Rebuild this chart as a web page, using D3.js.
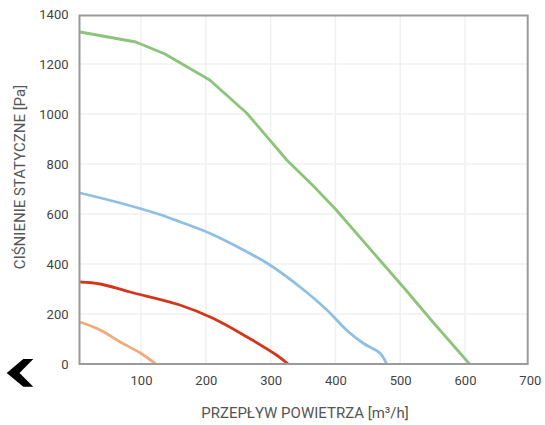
<!DOCTYPE html>
<html><head><meta charset="utf-8">
<script src="https://cdn.jsdelivr.net/npm/d3@7"></script>
<style>html,body{margin:0;padding:0;background:#fff;}svg{display:block;}</style>
</head><body>
<svg id="c" width="545" height="425"></svg>
<script>
const xTicks = [100, 200, 300, 400, 500, 600, 700];
const yTicks = [0, 200, 400, 600, 800, 1000, 1200, 1400];
const xTitle = "PRZEPŁYW POWIETRZA [m³/h]";
const yTitle = "CIŚNIENIE STATYCZNE [Pa]";

const greenX = [6, 92, 137, 206, 263, 325, 366, 400, 469, 510, 551, 607];
const greenY = [1328, 1288, 1240, 1136, 1004, 816, 712, 620, 414, 292, 166, 0];
const blueX = [6, 68, 129, 160, 206, 253, 299, 345, 387, 417, 443, 469, 479];
const blueY = [684, 644, 598, 569, 523, 463, 396, 309, 216, 136, 83, 43, 0];
const redX = [6, 37, 83, 160, 211, 263, 309, 327];
const redY = [328, 320, 288, 236, 183, 109, 36, 0];
const orangeX = [6, 37, 68, 99, 123];
const orangeY = [168, 136, 88, 44, 0];

const series = [
  {xs: greenX, ys: greenY, color: "#8cc47a", curve: d3.curveLinear},
  {xs: blueX, ys: blueY, color: "#8fc0e3", curve: d3.curveCatmullRom.alpha(0.5)},
  {xs: redX, ys: redY, color: "#d5361a", curve: d3.curveCatmullRom.alpha(0.5)},
  {xs: orangeX, ys: orangeY, color: "#f2aa7c", curve: d3.curveCatmullRom.alpha(0.5)}
];

const svg = d3.select("#c");
const x = d3.scaleLinear().domain([0, 700]).range([76.2, 529.8]);
const y = d3.scaleLinear().domain([0, 1400]).range([364, 14]);
const L = 79.5, R = 527.7, T = 15.5, B = 364;

// grid
svg.append("g").selectAll("line.v").data(xTicks.filter(d => d < 700)).join("line")
  .attr("x1", d => x(d)).attr("x2", d => x(d)).attr("y1", T).attr("y2", B)
  .attr("stroke", "#f0f0f0").attr("stroke-width", 1.5);
svg.append("g").selectAll("line.h").data(yTicks.filter(d => d > 0 && d < 1400)).join("line")
  .attr("x1", L).attr("x2", R).attr("y1", d => y(d)).attr("y2", d => y(d))
  .attr("stroke", "#f0f0f0").attr("stroke-width", 1.5);

// curves
svg.append("clipPath").attr("id", "pc").append("rect")
  .attr("x", L).attr("y", T).attr("width", R - L).attr("height", B - T);
series.forEach(s => {
  const pts = s.xs.map((v, i) => [v, s.ys[i]]);
  svg.append("path").attr("clip-path", "url(#pc)")
    .attr("d", d3.line().x(d => x(d[0])).y(d => y(d[1])).curve(s.curve)(pts))
    .attr("fill", "none").attr("stroke", s.color).attr("stroke-width", 2.8)
    .attr("stroke-linejoin", "round");
});

// frame
svg.append("rect").attr("x", L).attr("y", T).attr("width", R - L).attr("height", B - T)
  .attr("fill", "none").attr("stroke", "#9a9a9a").attr("stroke-width", 2);

// axes
const fmt = d3.format("d");
const xAxis = d3.axisBottom(x).tickValues(xTicks).tickFormat(fmt).tickSize(0).tickPadding(12);
const gx = svg.append("g").attr("transform", `translate(0,${B})`).call(xAxis);
gx.select(".domain").remove();
gx.selectAll("text").attr("font-family", "Roboto, sans-serif").attr("font-size", 13).attr("fill", "#444");

const yAxis = d3.axisLeft(y).tickValues(yTicks).tickFormat(fmt).tickSize(0).tickPadding(11);
const gy = svg.append("g").attr("transform", `translate(${L},0)`).call(yAxis);
gy.select(".domain").remove();
gy.selectAll("text").attr("font-family", "Roboto, sans-serif").attr("font-size", 13).attr("fill", "#444");

svg.append("text").attr("x", 305).attr("y", 418).attr("text-anchor", "middle")
  .attr("font-family", "Roboto, sans-serif").attr("font-size", 15).attr("fill", "#555")
  .text(xTitle);
svg.append("text").attr("transform", "translate(25,177) rotate(-90)").attr("text-anchor", "middle")
  .attr("font-family", "Roboto, sans-serif").attr("font-size", 15).attr("fill", "#555")
  .text(yTitle);

// chevron
svg.append("path").attr("d", "M23.3,359 L33.3,359 L19.5,373 L33.3,386.7 L23.3,386.7 L6.7,373 Z").attr("fill", "#000");
</script>
</body></html>
